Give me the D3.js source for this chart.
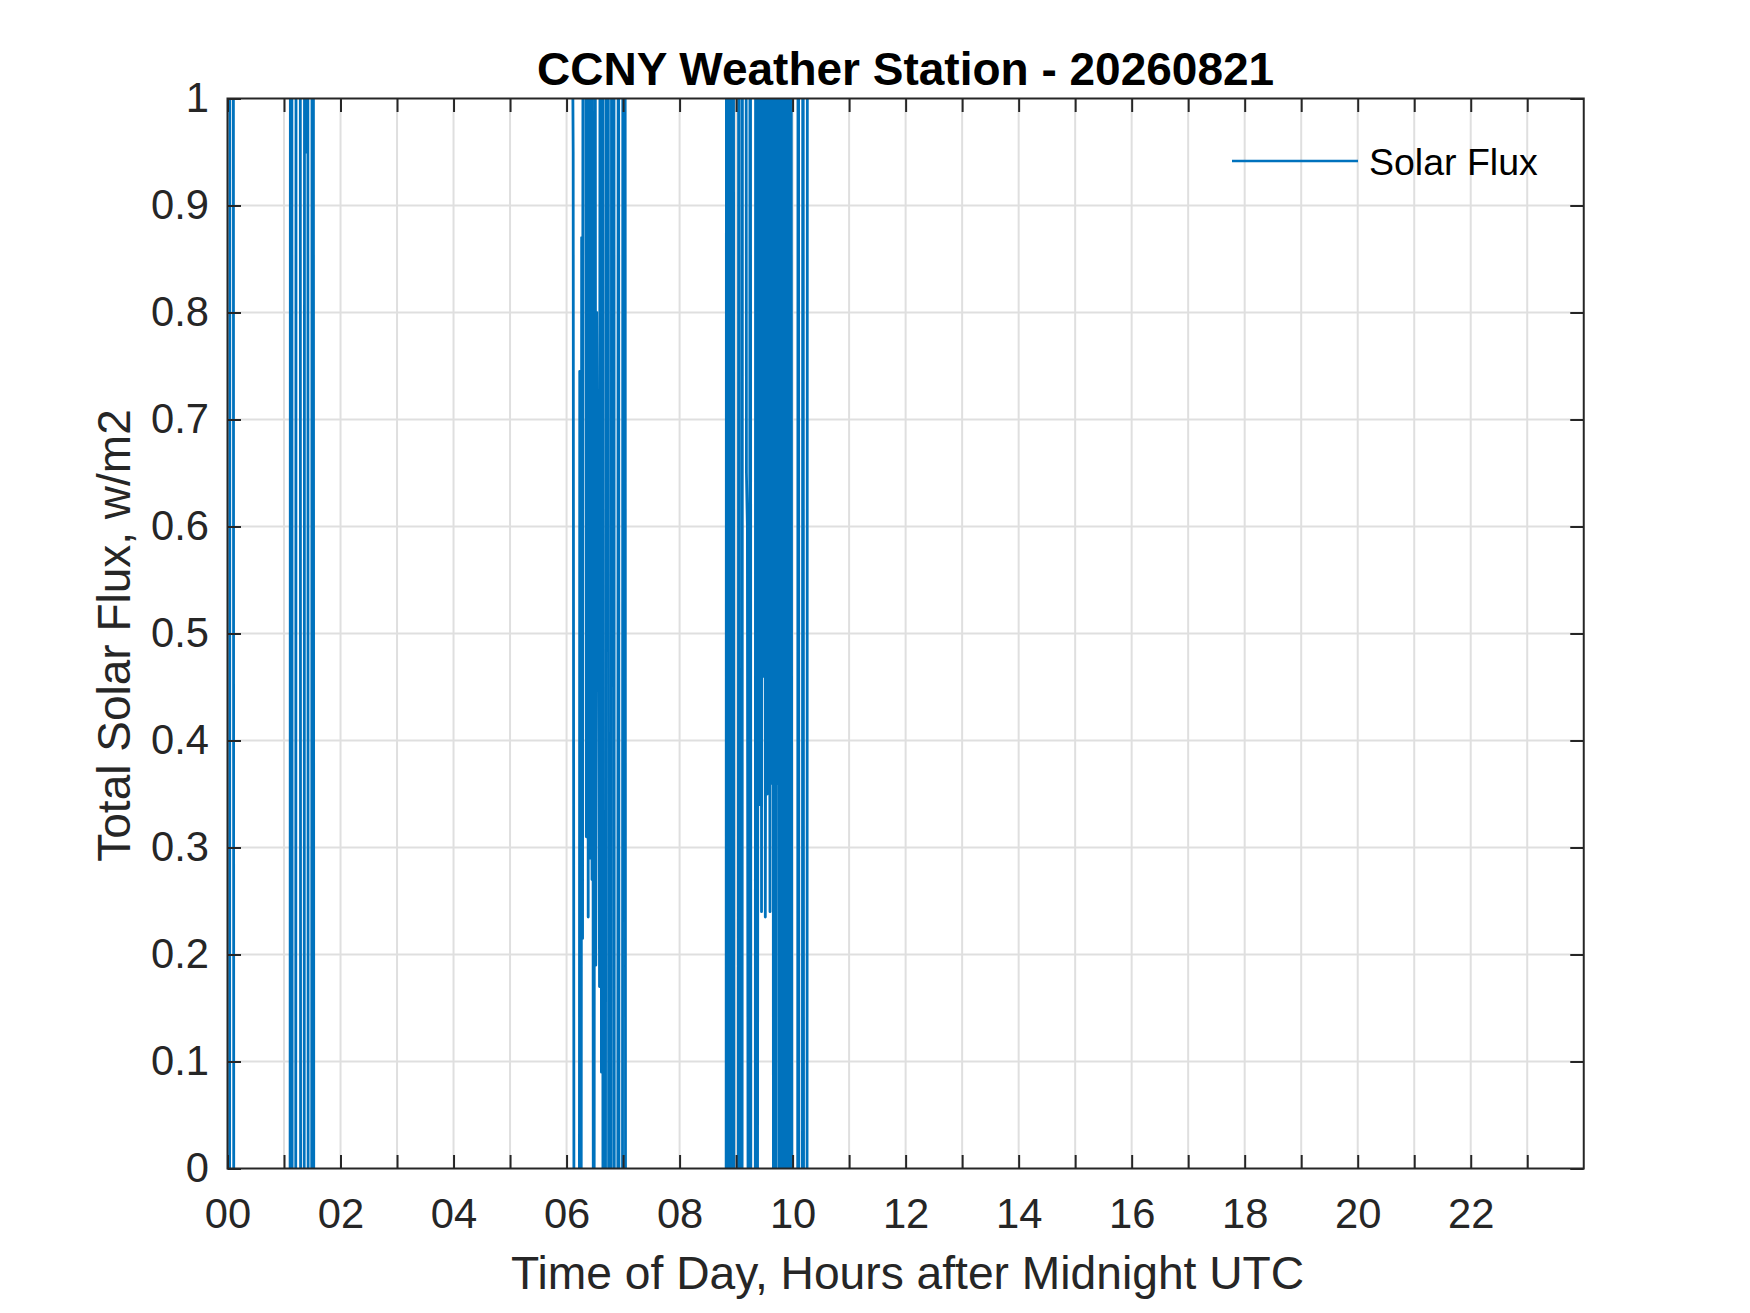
<!DOCTYPE html>
<html>
<head>
<meta charset="utf-8">
<script src="https://cdn.jsdelivr.net/npm/d3@7"></script>
<style>
  html, body { margin: 0; padding: 0; background: #ffffff; }
  svg { display: block; }
  text { font-family: "Liberation Sans", Arial, Helvetica, sans-serif; }
</style>
</head>
<body>
<svg id="chart" width="1750" height="1313"></svg>
<script>
// ---------------- data ----------------
const titleText = "CCNY Weather Station - 20260821";
const xLabelText = "Time of Day, Hours after Midnight UTC";
const yLabelText = "Total Solar Flux, w/m2";
const seriesName = "Solar Flux";

// hour ticks (every hour), labels on even hours
const xTickValues = [0,1,2,3,4,5,6,7,8,9,10,11,12,13,14,15,16,17,18,19,20,21,22,23];
const xTickLabels = ["00","","02","","04","","06","","08","","10","","12","","14","","16","","18","","20","","22",""];
const yTickValues = [0,0.1,0.2,0.3,0.4,0.5,0.6,0.7,0.8,0.9,1];
const yTickLabels = ["0","0.1","0.2","0.3","0.4","0.5","0.6","0.7","0.8","0.9","1"];

// sample times (hours UTC) and flux values (w/m2); null = missing sample
const hours = [
  0.000,0.033,0.044,0.083,0.100,0.117,0.250,0.500,0.750,1.000,1.100,
  1.117,1.133,1.150,1.200,1.217,1.283,1.300,1.350,1.367,1.383,1.400,1.417,1.433,1.483,1.500,1.517,1.533,
  2.000,3.000,4.000,5.000,6.000,6.033,
  6.050,6.117,6.150,6.217,6.233,6.250,6.267,6.283,6.300,6.333,6.350,6.367,6.383,6.400,6.417,6.433,6.450,
  6.467,6.483,6.500,6.517,6.533,6.550,6.567,6.583,6.600,6.617,6.633,6.650,6.683,6.700,6.717,6.733,6.750,
  6.783,6.800,6.833,6.850,6.900,6.917,6.933,6.983,7.000,7.033,7.050,
  7.500,8.000,8.500,8.817,
  8.833,8.850,8.867,8.883,8.900,8.917,8.933,8.950,8.967,9.033,9.050,9.067,9.100,9.117,9.167,9.183,9.200,
  9.233,9.250,9.267,9.333,9.350,9.367,9.400,9.417,9.433,9.450,9.467,9.483,9.500,9.517,9.533,9.550,9.567,
  9.583,9.600,9.617,9.633,9.650,9.667,9.683,9.700,9.717,9.733,9.750,9.767,9.783,9.800,9.817,9.833,9.850,
  9.867,9.883,9.900,9.917,9.933,9.950,9.967,10.000,10.083,10.100,10.117,10.167,10.183,10.200,10.250,10.267,
  10.500,11.000,12.000,13.000,14.000,15.000,16.000,17.000,18.000,19.000,20.000,21.000,22.000,23.000,23.983
];
const flux = [
  -1.4,-1.5,1.9,2.3,1.8,-1.2,-1.6,-1.8,-1.7,-1.9,-1.8,
  2.1,2.4,-1.3,-1.5,1.9,2.2,-1.4,-1.6,2.0,0.95,2.3,2.1,-1.2,-1.5,2.0,1.7,-1.3,
  -1.7,-1.9,-1.8,-2.0,-1.8,null,
  1.6,0.95,-1.5,-1.4,0.745,-1.2,0.87,0.215,2.4,2.0,0.31,2.2,0.235,1.9,0.29,2.5,0.27,
  0.53,-1.1,2.0,0.19,0.80,0.555,0.64,0.17,2.1,0.09,1.8,-1.2,-1.4,2.2,0.93,2.4,-1.3,
  -1.5,2.0,2.3,-1.1,-1.4,1.9,-1.2,-1.5,2.1,1.8,-1.3,
  -1.6,-1.8,-1.7,-1.6,
  2.0,-1.4,2.2,1.8,-1.3,2.1,-1.5,1.9,-1.2,-1.4,2.3,-1.1,-1.3,2.0,1.9,0.65,0.6,
  -1.2,2.1,-1.3,-1.5,2.2,-1.2,1.9,0.34,2.4,0.24,2.0,0.46,2.3,0.235,0.72,0.35,2.1,
  0.80,0.24,2.5,0.36,1.9,-1.3,2.2,-1.1,2.0,0.36,2.3,-1.2,1.8,-1.4,2.1,-1.3,2.4,
  -1.5,2.0,0.94,-1.2,2.2,-1.1,1.9,-1.3,-1.5,2.1,-1.2,-1.4,1.9,-1.1,-1.3,2.4,
  12,48,160,290,420,560,700,780,720,600,470,310,150,40,5
];

// ---------------- layout ----------------
const W = 1750, H = 1313;
const plot = { left: 227.5, right: 1583.75, top: 98.5, bottom: 1168.5 };
const axisColor = "#262626";
const gridColor = "#dfdfdf";
const lineColor = "#0072BD";
const tickFont = 41.7;
const tickLen = 13.5;

const svg = d3.select("#chart");
svg.append("rect").attr("width", W).attr("height", H).attr("fill", "#ffffff");

const x = d3.scaleLinear().domain([0, 24]).range([plot.left, plot.right]);
const y = d3.scaleLinear().domain([0, 1]).range([plot.bottom, plot.top]);

// grid
const grid = svg.append("g");
grid.selectAll("line.gx").data(xTickValues.filter(v => v > 0)).join("line")
  .attr("x1", d => x(d)).attr("x2", d => x(d))
  .attr("y1", plot.top).attr("y2", plot.bottom)
  .attr("stroke", gridColor).attr("stroke-width", 2);
grid.selectAll("line.gy").data(yTickValues.filter(v => v > 0 && v < 1)).join("line")
  .attr("x1", plot.left).attr("x2", plot.right)
  .attr("y1", d => y(d)).attr("y2", d => y(d))
  .attr("stroke", gridColor).attr("stroke-width", 2);

// data line (clipped to axes box)
svg.append("defs").append("clipPath").attr("id", "plotclip")
  .append("rect")
  .attr("x", plot.left).attr("y", plot.top)
  .attr("width", plot.right - plot.left).attr("height", plot.bottom - plot.top);

const pts = hours.map((h, i) => [h, flux[i]]);
const line = d3.line()
  .defined(d => d[1] !== null)
  .x(d => x(d[0]))
  .y(d => y(d[1]));

svg.append("path")
  .datum(pts)
  .attr("clip-path", "url(#plotclip)")
  .attr("fill", "none")
  .attr("stroke", lineColor)
  .attr("stroke-width", 2.8)
  .attr("stroke-linejoin", "round")
  .attr("d", line);

// axes
function styleAxis(g) {
  g.select(".domain").remove();
  g.selectAll(".tick line").attr("stroke", axisColor).attr("stroke-width", 2);
  g.selectAll(".tick text")
    .attr("fill", axisColor)
    .attr("font-size", tickFont)
    .attr("font-family", '"Liberation Sans", Arial, Helvetica, sans-serif');
}

const xAxisB = d3.axisBottom(x).tickValues(xTickValues)
  .tickFormat((d, i) => xTickLabels[i])
  .tickSizeInner(-tickLen).tickSizeOuter(0).tickPadding(30);
svg.append("g").attr("transform", `translate(0,${plot.bottom})`).call(xAxisB).call(styleAxis);

const xAxisT = d3.axisTop(x).tickValues(xTickValues)
  .tickFormat(() => "").tickSizeInner(-tickLen).tickSizeOuter(0);
svg.append("g").attr("transform", `translate(0,${plot.top})`).call(xAxisT).call(styleAxis);

const yAxisL = d3.axisLeft(y).tickValues(yTickValues)
  .tickFormat((d, i) => yTickLabels[i])
  .tickSizeInner(-tickLen).tickSizeOuter(0).tickPadding(18.5);
svg.append("g").attr("transform", `translate(${plot.left},0)`).call(yAxisL).call(styleAxis);

const yAxisR = d3.axisRight(y).tickValues(yTickValues)
  .tickFormat(() => "").tickSizeInner(-tickLen).tickSizeOuter(0);
svg.append("g").attr("transform", `translate(${plot.right},0)`).call(yAxisR).call(styleAxis);

// box
svg.append("rect")
  .attr("x", plot.left).attr("y", plot.top)
  .attr("width", plot.right - plot.left).attr("height", plot.bottom - plot.top)
  .attr("fill", "none").attr("stroke", axisColor).attr("stroke-width", 2);

// title & labels
const cx = (plot.left + plot.right) / 2;
svg.append("text").text(titleText)
  .attr("x", cx).attr("y", 85)
  .attr("text-anchor", "middle")
  .attr("font-size", 46).attr("font-weight", "bold").attr("fill", "#000000");

svg.append("text").text(xLabelText)
  .attr("x", cx + 2).attr("y", 1289)
  .attr("text-anchor", "middle")
  .attr("font-size", 46.2).attr("fill", axisColor);

svg.append("text").text(yLabelText)
  .attr("transform", `translate(130,${(plot.top + plot.bottom) / 2 + 2}) rotate(-90)`)
  .attr("text-anchor", "middle")
  .attr("font-size", 46).attr("fill", axisColor);

// legend (no box)
const lg = svg.append("g");
lg.append("line")
  .attr("x1", 1232).attr("x2", 1358).attr("y1", 161).attr("y2", 161)
  .attr("stroke", lineColor).attr("stroke-width", 2.3);
lg.append("text").text(seriesName)
  .attr("x", 1369).attr("y", 175)
  .attr("font-size", 37.5).attr("fill", "#000000");
</script>
</body>
</html>
